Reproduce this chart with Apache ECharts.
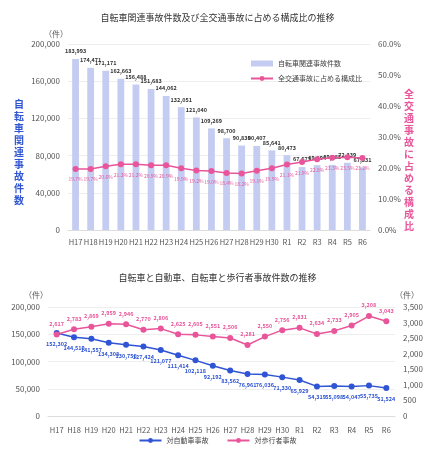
<!DOCTYPE html>
<html><head><meta charset="utf-8">
<script src="https://cdn.jsdelivr.net/npm/echarts@6/dist/echarts.min.js"></script>
<style>html,body{margin:0;padding:0;background:#fff}#c{width:435px;height:452px}</style>
</head><body><div id="c"></div>
<script>
const categories=['H17','H18','H19','H20','H21','H22','H23','H24','H25','H26','H27','H28','H29','H30','R1','R2','R3','R4','R5','R6'];
const bicycleAccidents=[183993,174471,171171,162663,156488,151683,144062,132051,121040,109269,98700,90836,90407,85641,80473,67673,69694,69985,72339,67531];
const shareRatio=[19.7,19.7,20.6,21.2,21.2,20.9,20.9,19.9,19.2,19.0,18.4,18.2,19.1,19.9,21.1,21.9,22.8,23.3,23.5,23.2];
const vsCar=[152302,144519,141557,134308,130756,127424,121077,111414,102118,92192,83562,76961,76036,71330,65929,54319,55098,54047,55735,51524];
const vsPedestrian=[2617,2783,2869,2959,2946,2770,2806,2625,2605,2551,2506,2281,2550,2756,2831,2634,2733,2905,3208,3043];
const F='"Noto Sans CJK JP", "Noto Sans", sans-serif';
const PINK='#e8559a', BLUE='#2f55d4', BAR='#c4cdf1';
const gray={color:'#555',fontSize:8,fontFamily:F};
const split={show:true,lineStyle:{color:'#eee'}};
const fmt=v=>v.toLocaleString('en-US');
const chart=echarts.init(document.getElementById('c'));
chart.setOption({
 animation:false,
 textStyle:{fontFamily:F},
 title:[
  {text:'自転車関連事故件数及び全交通事故に占める構成比の推移',left:'center',top:8,textStyle:{fontSize:9,fontWeight:'normal',color:'#333',fontFamily:F}},
  {text:'自転車と自動車、自転車と歩行者事故件数の推移',left:'center',top:268,textStyle:{fontSize:9,fontWeight:'normal',color:'#333',fontFamily:F}}
 ],
 graphic:[
  {type:'text',left:14,top:98,style:{text:'自\n転\n車\n関\n連\n事\n故\n件\n数',fill:'#2f55d4',font:'bold 10px '+F,lineHeight:12}},
  {type:'text',left:404,top:88,style:{text:'全\n交\n通\n事\n故\nに\n占\nめ\nる\n構\n成\n比',fill:PINK,font:'bold 10px '+F,lineHeight:12}}
 ],
 legend:[
  {data:[{name:'自転車関連事故件数',icon:'rect'},{name:'全交通事故に占める構成比'}],orient:'vertical',left:245,top:55,itemWidth:22,itemHeight:6,itemGap:8,textStyle:{fontSize:7,color:'#444'}},
  {data:['対自動車事故','対歩行者事故'],left:'center',top:432,itemWidth:22,itemHeight:6,itemGap:18,textStyle:{fontSize:7,color:'#444'}}
 ],
 grid:[
  {left:68,right:65,top:44,bottom:222,containLabel:false},
  {left:48,right:40,top:307,bottom:36}
 ],
 xAxis:[
  {gridIndex:0,type:'category',data:categories,axisTick:{show:false},axisLine:{lineStyle:{color:'#ddd'}},axisLabel:{...gray,interval:0,fontSize:7.5}},
  {gridIndex:1,type:'category',data:categories,axisTick:{show:false},axisLine:{lineStyle:{color:'#ddd'}},axisLabel:{...gray,interval:0,fontSize:7.5,margin:10}}
 ],
 yAxis:[
  {gridIndex:0,type:'value',min:0,max:200000,interval:40000,name:'（件）',nameTextStyle:{...gray,align:'right'},nameGap:6,axisLabel:{...gray,formatter:fmt},splitLine:split},
  {gridIndex:0,type:'value',min:0,max:60,interval:10,axisLabel:{...gray,formatter:v=>v.toFixed(1)+'%'},splitLine:{show:false}},
  {gridIndex:1,type:'value',min:0,max:200000,interval:50000,name:'（件）',nameTextStyle:{...gray,align:'right'},nameGap:8,axisLabel:{...gray,formatter:fmt},splitLine:split},
  {gridIndex:1,type:'value',min:0,max:3500,interval:500,name:'（件）',nameTextStyle:{...gray,align:'left'},nameGap:8,axisLabel:{...gray,formatter:fmt},splitLine:{show:false}}
 ],
 series:[
  {name:'自転車関連事故件数',type:'bar',xAxisIndex:0,yAxisIndex:0,data:bicycleAccidents,barWidth:'45%',itemStyle:{color:BAR},
   label:{show:true,position:'top',fontSize:5.5,color:'#333',fontWeight:'bold',formatter:p=>fmt(p.value)}},
  {name:'全交通事故に占める構成比',type:'line',xAxisIndex:0,yAxisIndex:1,data:shareRatio,symbol:'circle',symbolSize:6,itemStyle:{color:PINK},lineStyle:{color:PINK,width:1.5},
   label:{show:true,position:'bottom',fontSize:5,color:PINK,formatter:p=>p.value.toFixed(1)+'%'}},
  {name:'対自動車事故',type:'line',xAxisIndex:1,yAxisIndex:2,data:vsCar,symbol:'circle',symbolSize:6,itemStyle:{color:BLUE},lineStyle:{color:BLUE,width:1.5},
   label:{show:true,position:'bottom',fontSize:5.5,color:BLUE,fontWeight:'bold',formatter:p=>fmt(p.value)}},
  {name:'対歩行者事故',type:'line',xAxisIndex:1,yAxisIndex:3,data:vsPedestrian,symbol:'circle',symbolSize:6,itemStyle:{color:PINK},lineStyle:{color:PINK,width:1.5},
   label:{show:true,position:'top',fontSize:5.5,color:PINK,fontWeight:'bold',formatter:p=>fmt(p.value)}}
 ]
});
</script></body></html>
